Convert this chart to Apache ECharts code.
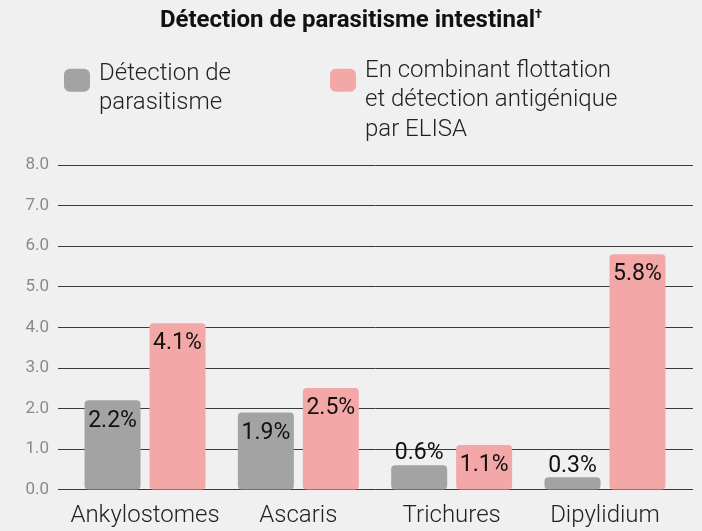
<!DOCTYPE html>
<html>
<head>
<meta charset="utf-8">
<script src="https://cdn.jsdelivr.net/npm/echarts@6/dist/echarts.min.js"></script>
<style>
html,body{margin:0;padding:0;background:#f0f0f0;}
#c{width:702px;height:531px;}
</style>
</head>
<body>
<div id="c"></div>
<script>
const titleMain = 'Détection de parasitisme intestinal';
const titleMark = '†';
const categories = ['Ankylostomes', 'Ascaris', 'Trichures', 'Dipylidium'];
const seriesNames = ['Détection de parasitisme', 'En combinant flottation et détection antigénique par ELISA'];
const legendLines = [
  ['Détection de', 'parasitisme'],
  ['En combinant flottation', 'et détection antigénique', 'par ELISA']
];
const detection = [2.2, 1.9, 0.6, 0.3];
const combined = [4.1, 2.5, 1.1, 5.8];
const yTicks = [0, 1, 2, 3, 4, 5, 6, 7, 8];

const colors = ['#a3a3a3', '#f4a7a7'];
const FONT = 'Roboto';
const LH = 29.5;
const spacers = [16, 40];

function mkData(arr) {
  return arr.map(v => ({
    value: v,
    label: v < 1 ? { position: 'top', distance: 0 } : { position: 'insideTop', distance: 9 }
  }));
}

const chart = echarts.init(document.getElementById('c'), null, { renderer: 'canvas' });
chart.setOption({
  backgroundColor: '#f0f0f0',
  animation: false,
  title: {
    text: '{m|' + titleMain + '}{s|' + titleMark + '}',
    left: 'center',
    top: 8,
    padding: 0,
    textStyle: {
      rich: {
        m: { fontFamily: FONT, fontWeight: 'bold', fontSize: 24, color: '#111', lineHeight: 25 },
        s: { fontFamily: FONT, fontWeight: 'bold', fontSize: 13, color: '#111', verticalAlign: 'top', lineHeight: 16 }
      }
    }
  },
  legend: {
    left: 64,
    top: 16,
    padding: 0,
    itemWidth: 26,
    itemHeight: 23,
    itemGap: 99,
    icon: 'roundRect',
    itemStyle: { borderRadius: 4 },
    data: seriesNames,
    formatter: name => {
      const i = seriesNames.indexOf(name);
      const sp = i === 0 ? '{sp0| }' : '{sp1| }';
      return [sp].concat(legendLines[i].map(l => '{t|' + l + '}')).join('\n');
    },
    textStyle: {
      rich: {
        sp0: { fontSize: 1, lineHeight: spacers[0], height: spacers[0] },
        sp1: { fontSize: 1, lineHeight: spacers[1], height: spacers[1] },
        t: { fontFamily: FONT, fontWeight: 300, fontSize: 24, lineHeight: LH, color: '#222', padding: [0, 0, 0, 4] }
      }
    }
  },
  grid: [
    { left: 58, right: 9, top: 165, bottom: 41.5 },
    { left: 68.35, right: 20.35, top: 165, bottom: 41.5 }
  ],
  xAxis: [
    { type: 'category', gridIndex: 0, data: categories, show: false },
    {
      type: 'category', gridIndex: 1, data: categories,
      axisLine: { show: false }, axisTick: { show: false },
      axisLabel: { interval: 0, fontFamily: FONT, fontWeight: 300, fontSize: 24, color: '#222', margin: 14 }
    }
  ],
  yAxis: [
    {
      type: 'value', gridIndex: 0, min: yTicks[0], max: yTicks[yTicks.length - 1], interval: 1,
      axisLine: { show: false }, axisTick: { show: false },
      axisLabel: { fontFamily: FONT, fontSize: 17, color: '#8a8a8a', margin: 9, formatter: v => v.toFixed(1) },
      splitLine: { lineStyle: { color: '#3a3a3a', width: 1 } }
    },
    {
      type: 'value', gridIndex: 1, min: yTicks[0], max: yTicks[yTicks.length - 1], interval: 1,
      show: false, splitLine: { show: false }
    }
  ],
  series: [
    {
      name: seriesNames[0], type: 'bar', xAxisIndex: 1, yAxisIndex: 1,
      data: mkData(detection), barWidth: 56, barGap: '16%',
      itemStyle: { color: colors[0], borderRadius: 4 },
      label: { show: true, formatter: p => p.value.toFixed(1) + '%', fontFamily: FONT, fontSize: 23, color: '#111' }
    },
    {
      name: seriesNames[1], type: 'bar', xAxisIndex: 1, yAxisIndex: 1,
      data: mkData(combined), barWidth: 56, barGap: '16%',
      itemStyle: { color: colors[1], borderRadius: 4 },
      label: { show: true, formatter: p => p.value.toFixed(1) + '%', fontFamily: FONT, fontSize: 23, color: '#111' }
    }
  ]
});
</script>
</body>
</html>
